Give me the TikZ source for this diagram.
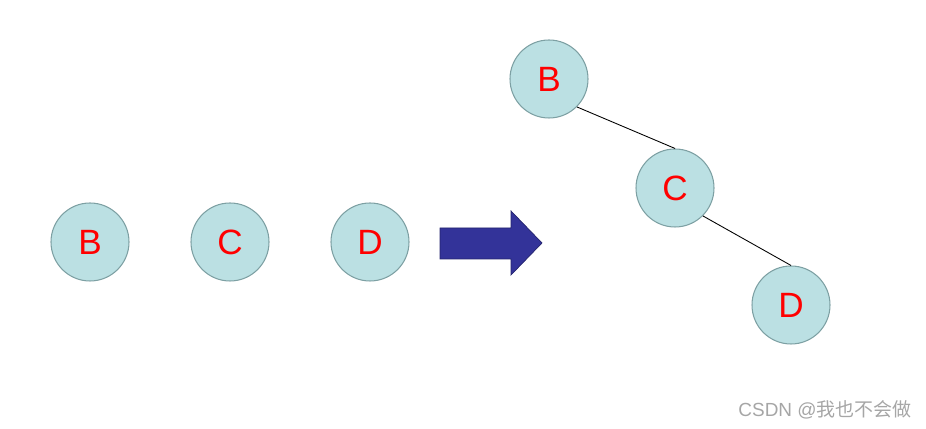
\documentclass[tikz,border=0pt]{standalone}
\usepackage{fontspec}
\setmainfont{Liberation Sans}
\newfontfamily\cjkfont{Noto Sans CJK SC}
\usepackage{tikz}
\usetikzlibrary{positioning}

\definecolor{nodefill}{RGB}{187,224,227}
\definecolor{nodeedge}{RGB}{125,160,163}
\definecolor{arrowblue}{RGB}{51,51,153}
\definecolor{arrowedge}{RGB}{36,36,110}

\begin{document}
\begin{tikzpicture}[line width=0.6pt,
    treenode/.style={circle, draw=nodeedge, fill=nodefill, minimum size=1.56cm, inner sep=0pt,
        text=red, font=\fontsize{20}{24}\selectfont}]
            \useasboundingbox (0,0) rectangle (18.52,8.58);

            % Nodes before
            \node[treenode] (b1) at (1.80, 3.74) {B};
            \node[treenode] (c1) at (4.60, 3.74) {C};
            \node[treenode] (d1) at (7.40, 3.74) {D};

            % Block arrow
            \draw[fill=arrowblue, draw=arrowedge, line width=0.4pt]
                (8.80, 4.02) -- (10.22, 4.02) -- (10.22, 4.36) -- (10.84, 3.72)
                -- (10.22, 3.08) -- (10.22, 3.40) -- (8.80, 3.40) -- cycle;

            % Nodes after
            \node[treenode] (b2) at (10.98, 7.00) {B};
            \node[treenode] (c2) at (13.50, 4.82) {C};
            \node[treenode] (d2) at (15.82, 2.48) {D};

            % Edges
            \draw[line width=0.5pt] (b2.south east) -- (c2.north);
            \draw[line width=0.5pt] (c2.south east) -- (d2.north);

            % Watermark
            \node[text=black!35, font=\fontsize{10.8}{13}\selectfont] (mark) at (16.50, 0.38)
                {CSDN @{\cjkfont 我也不会做}};
        \end{tikzpicture}
\end{document}
